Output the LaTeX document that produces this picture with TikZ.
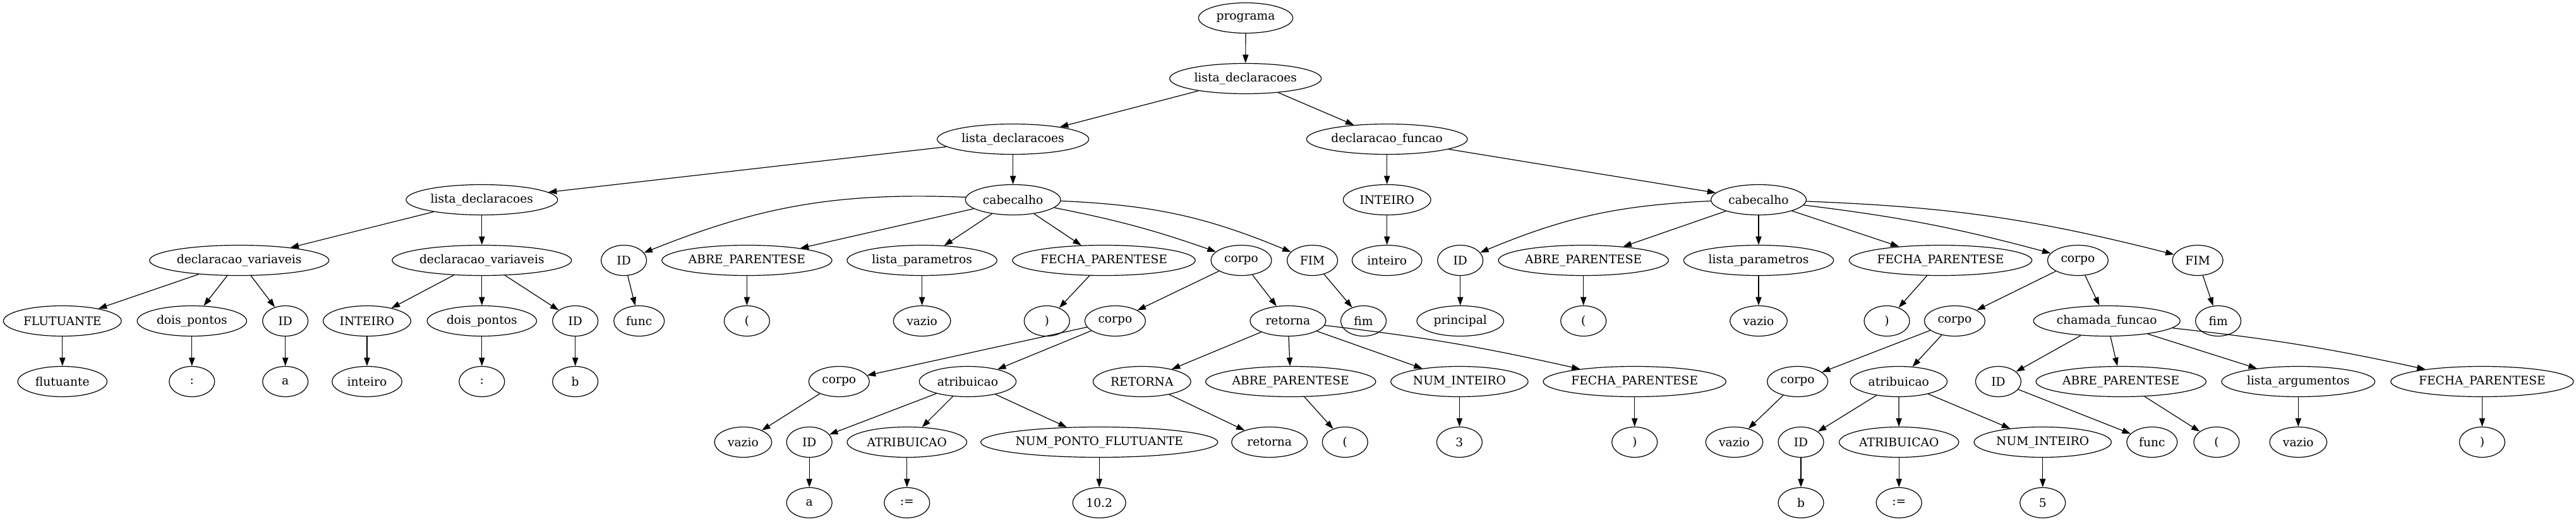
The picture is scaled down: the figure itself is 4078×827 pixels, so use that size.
\documentclass[tikz,border=0pt]{standalone}
\usepackage{fontspec}
\setmainfont{DejaVu Serif}
\usetikzlibrary{arrows.meta,shapes.geometric}

\begin{document}
\begin{tikzpicture}[
    x=0.75pt, y=-0.75pt,
    nd/.style={draw, ellipse, line width=0.9pt, minimum height=36pt, minimum width=#1, inner sep=0pt, font=\fontsize{14}{16}\selectfont},
    nd/.default=54pt,
    arr/.style={-{Triangle[length=10pt, width=7pt]}, line width=0.9pt},
]
\useasboundingbox (0,0) rectangle (4078,827);
% Rank 0-2
\node[nd=112pt] (prog) at (1972,28.5) {programa};
\node[nd=180pt] (ldA) at (1971.7,124.5) {lista\_declaracoes};
\node[nd=180pt] (ldB) at (1603.6,220.5) {lista\_declaracoes};
\node[nd=191pt] (dfun) at (2195.7,220.5) {declaracao\_funcao};
% Rank 3
\node[nd=180pt] (ldC) at (762.8,316.5) {lista\_declaracoes};
\node[nd=113pt] (cabA) at (1603.6,316.5) {cabecalho};
\node[nd=104pt] (intA) at (2195.7,316.5) {INTEIRO};
\node[nd=113pt] (cabB) at (2784,316.5) {cabecalho};
% Rank 4
\node[nd=213pt] (dvA) at (378.7,412.5) {declaracao\_variaveis};
\node[nd=213pt] (dvB) at (762.8,412.5) {declaracao\_variaveis};
\node[nd] (idA) at (987.6,412.5) {ID};
\node[nd=202pt] (abA) at (1182.4,412.5) {ABRE\_PARENTESE};
\node[nd=178pt] (lpA) at (1459.6,412.5) {lista\_parametros};
\node[nd=217pt] (fpA) at (1747.5,412.5) {FECHA\_PARENTESE};
\node[nd=72pt] (corA) at (1965,412.5) {corpo};
\node[nd=60pt] (fimA) at (2077.6,412.5) {FIM};
\node[nd=83pt] (intB) at (2195.7,412.5) {inteiro};
\node[nd] (idB) at (2311.7,412.5) {ID};
\node[nd=202pt] (abB) at (2506.7,412.5) {ABRE\_PARENTESE};
\node[nd=178pt] (lpB) at (2784,412.5) {lista\_parametros};
\node[nd=217pt] (fpB) at (3072,412.5) {FECHA\_PARENTESE};
\node[nd=72pt] (corB) at (3289.4,412.5) {corpo};
\node[nd=60pt] (fimB) at (3479.1,412.5) {FIM};
% Rank 5
\node[nd=140pt] (fluA) at (98.8,508.5) {FLUTUANTE};
\node[nd=130pt] (dpA) at (303.8,508.5) {dois\_pontos};
\node[nd] (idC) at (451.7,508.5) {ID};
\node[nd=104pt] (intC) at (581,508.5) {INTEIRO};
\node[nd=130pt] (dpB) at (762.8,508.5) {dois\_pontos};
\node[nd] (idD) at (910.7,508.5) {ID};
\node[nd=60pt] (funA) at (1011.7,508.5) {func};
\node[nd] (parA) at (1182.4,508.5) {(};
\node[nd=68pt] (vzA) at (1459.6,508.5) {vazio};
\node[nd] (parB) at (1657.3,508.5) {)};
\node[nd=72pt] (corC) at (1765.4,508.5) {corpo};
\node[nd=90pt] (retA) at (2038.9,508.5) {retorna};
\node[nd] (fimC) at (2158.5,508.5) {fim};
\node[nd=103pt] (prin) at (2311.7,508.5) {principal};
\node[nd] (parC) at (2506.7,508.5) {(};
\node[nd=68pt] (vzB) at (2784,508.5) {vazio};
\node[nd] (parD) at (2987,508.5) {)};
\node[nd=72pt] (corD) at (3094.4,508.5) {corpo};
\node[nd=174pt] (cham) at (3335.2,508.5) {chamada\_funcao};
\node[nd] (fimD) at (3511.6,508.5) {fim};
% Rank 6
\node[nd=106pt] (fluB) at (98.8,604.5) {flutuante};
\node[nd] (colA) at (303.8,604.5) {:};
\node[nd] (aA) at (451.7,604.5) {a};
\node[nd=83pt] (intD) at (581,604.5) {inteiro};
\node[nd] (colB) at (762.8,604.5) {:};
\node[nd] (bA) at (910.7,604.5) {b};
\node[nd=72pt] (corE) at (1328.3,604.5) {corpo};
\node[nd=115pt] (atrA) at (1531.9,604.5) {atribuicao};
\node[nd=116pt] (RET) at (1807.8,604.5) {RETORNA};
\node[nd=202pt] (abC) at (2043.2,604.5) {ABRE\_PARENTESE};
\node[nd=163pt] (nintA) at (2310.4,604.5) {NUM\_INTEIRO};
\node[nd=217pt] (fpC) at (2587.7,604.5) {FECHA\_PARENTESE};
\node[nd=72pt] (corF) at (2845.6,604.5) {corpo};
\node[nd=115pt] (atrB) at (3005.8,604.5) {atribuicao};
\node[nd] (idE) at (3163.4,604.5) {ID};
\node[nd=202pt] (abD) at (3357.7,604.5) {ABRE\_PARENTESE};
\node[nd=182pt] (larg) at (3638.3,604.5) {lista\_argumentos};
\node[nd=217pt] (fpD) at (3929.4,604.5) {FECHA\_PARENTESE};
% Rank 7
\node[nd=68pt] (vzC) at (1176.4,700.5) {vazio};
\node[nd] (idF) at (1281.2,700.5) {ID};
\node[nd=142pt] (atA) at (1435.8,700.5) {ATRIBUICAO};
\node[nd=276pt] (npf) at (1740.2,700.5) {NUM\_PONTO\_FLUTUANTE};
\node[nd=90pt] (retB) at (2009.7,700.5) {retorna};
\node[nd] (parE) at (2129.3,700.5) {(};
\node[nd] (three) at (2310.4,700.5) {3};
\node[nd] (parF) at (2587.7,700.5) {)};
\node[nd=68pt] (vzD) at (2745.5,700.5) {vazio};
\node[nd] (idG) at (2851,700.5) {ID};
\node[nd=142pt] (atB) at (3006.2,700.5) {ATRIBUICAO};
\node[nd=163pt] (nintB) at (3233.7,700.5) {NUM\_INTEIRO};
\node[nd=60pt] (funB) at (3406.8,700.5) {func};
\node[nd] (parG) at (3508.9,700.5) {(};
\node[nd=68pt] (vzE) at (3638.3,700.5) {vazio};
\node[nd] (parH) at (3929.4,700.5) {)};
% Rank 8
\node[nd] (aB) at (1281.2,796.5) {a};
\node[nd] (asA) at (1435.8,796.5) {:=};
\node[nd=63pt] (ten) at (1740.2,796.5) {10.2};
\node[nd] (bB) at (2851,796.5) {b};
\node[nd] (asB) at (3006.2,796.5) {:=};
\node[nd] (five) at (3233.7,796.5) {5};
% Arrows
\draw[arr] (prog) -- (ldA);
\draw[arr] (ldA) -- (ldB);
\draw[arr] (ldA) -- (dfun);
\draw[arr] (ldB) -- (ldC);
\draw[arr] (ldB) -- (cabA);
\draw[arr] (ldC) -- (dvA);
\draw[arr] (ldC) -- (dvB);
\draw[arr] (dvA) -- (fluA);
\draw[arr] (dvA) -- (dpA);
\draw[arr] (dvA) -- (idC);
\draw[arr] (dvB) -- (intC);
\draw[arr] (dvB) -- (dpB);
\draw[arr] (dvB) -- (idD);
\draw[arr] (fluA) -- (fluB);
\draw[arr] (dpA) -- (colA);
\draw[arr] (idC) -- (aA);
\draw[arr] (intC) -- (intD);
\draw[arr] (dpB) -- (colB);
\draw[arr] (idD) -- (bA);
\draw[arr] (cabA) to[bend right=12] (idA);
\draw[arr] (cabA) -- (abA);
\draw[arr] (cabA) -- (lpA);
\draw[arr] (cabA) -- (fpA);
\draw[arr] (cabA) to[bend left=4] (corA);
\draw[arr] (cabA) to[bend left=10] (fimA);
\draw[arr] (idA) -- (funA);
\draw[arr] (abA) -- (parA);
\draw[arr] (lpA) -- (vzA);
\draw[arr] (fpA) -- (parB);
\draw[arr] (corA) -- (corC);
\draw[arr] (corA) -- (retA);
\draw[arr] (fimA) -- (fimC);
\draw[arr] (corC) -- (corE);
\draw[arr] (corC) -- (atrA);
\draw[arr] (corE) -- (vzC);
\draw[arr] (atrA) -- (idF);
\draw[arr] (atrA) -- (atA);
\draw[arr] (atrA) -- (npf);
\draw[arr] (idF) -- (aB);
\draw[arr] (atA) -- (asA);
\draw[arr] (npf) -- (ten);
\draw[arr] (retA) -- (RET);
\draw[arr] (retA) -- (abC);
\draw[arr] (retA) -- (nintA);
\draw[arr] (retA) to[bend left=3] (fpC);
\draw[arr] (RET) -- (retB);
\draw[arr] (abC) -- (parE);
\draw[arr] (nintA) -- (three);
\draw[arr] (fpC) -- (parF);
\draw[arr] (dfun) -- (intA);
\draw[arr] (dfun) -- (cabB);
\draw[arr] (intA) -- (intB);
\draw[arr] (cabB) to[bend right=10] (idB);
\draw[arr] (cabB) -- (abB);
\draw[arr] (cabB) -- (lpB);
\draw[arr] (cabB) -- (fpB);
\draw[arr] (cabB) to[bend left=4] (corB);
\draw[arr] (cabB) to[bend left=6] (fimB);
\draw[arr] (idB) -- (prin);
\draw[arr] (abB) -- (parC);
\draw[arr] (lpB) -- (vzB);
\draw[arr] (fpB) -- (parD);
\draw[arr] (corB) -- (corD);
\draw[arr] (corB) -- (cham);
\draw[arr] (fimB) -- (fimD);
\draw[arr] (corD) -- (corF);
\draw[arr] (corD) -- (atrB);
\draw[arr] (corF) -- (vzD);
\draw[arr] (atrB) -- (idG);
\draw[arr] (atrB) -- (atB);
\draw[arr] (atrB) -- (nintB);
\draw[arr] (idG) -- (bB);
\draw[arr] (atB) -- (asB);
\draw[arr] (nintB) -- (five);
\draw[arr] (cham) -- (idE);
\draw[arr] (cham) -- (abD);
\draw[arr] (cham) -- (larg);
\draw[arr] (cham) to[bend left=3] (fpD);
\draw[arr] (idE) -- (funB);
\draw[arr] (abD) -- (parG);
\draw[arr] (larg) -- (vzE);
\draw[arr] (fpD) -- (parH);
\end{tikzpicture}
\end{document}
